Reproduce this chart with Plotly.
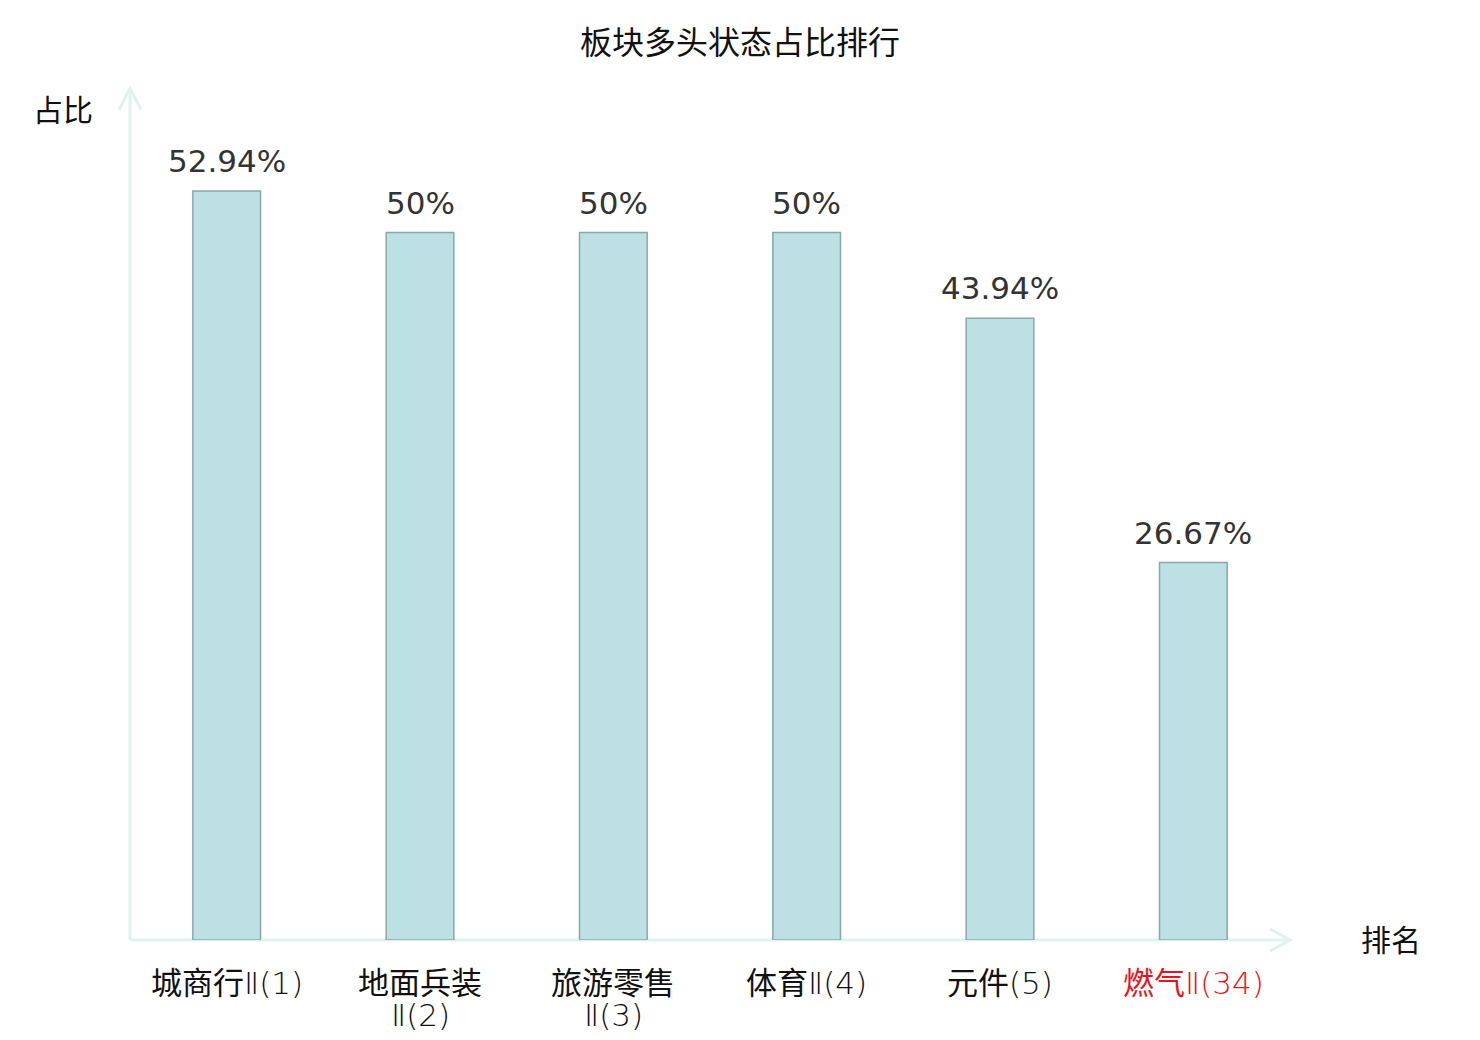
import plotly.graph_objects as go

# 板块多头状态占比排行
categories = ["城商行Ⅱ(1)", "地面兵装Ⅱ(2)", "旅游零售Ⅱ(3)", "体育Ⅱ(4)", "元件(5)", "燃气Ⅱ(34)"]
label_main = ["城商行", "地面兵装", "旅游零售", "体育", "元件", "燃气"]
label_suffix = ["Ⅱ(1)", "Ⅱ(2)", "Ⅱ(3)", "Ⅱ(4)", "(5)", "Ⅱ(34)"]
label_wrap = [False, True, True, False, False, False]
label_colors = ["#111111", "#111111", "#111111", "#111111", "#111111", "#e8141b"]
values = [52.94, 50, 50, 50, 43.94, 26.67]
value_text = ["52.94%", "50%", "50%", "50%", "43.94%", "26.67%"]

FONT = "DejaVu Sans, Noto Sans CJK SC, sans-serif"
AXIS_COLOR = "#dff2ef"

fig = go.Figure()
fig.add_trace(go.Bar(
    x=categories, y=values,
    marker=dict(color="#bce0e3", line=dict(color="#8aa8aa", width=1.5)),
    width=0.35, hoverinfo="skip",
))

# page is offset by 8px body margin, plot area lands at x 130..1290, y 91..940
fig.update_layout(
    width=1480, height=1040,
    margin=dict(l=122, r=198, t=83, b=108),
    paper_bgcolor="white", plot_bgcolor="white",
    showlegend=False,
    font=dict(family=FONT, color="#111111"),
    title=dict(text="板块多头状态占比排行", x=0.4946, xanchor="center", y=0.967, yanchor="middle",
               font=dict(size=32, color="#111111", family=FONT)),
)
fig.update_xaxes(showticklabels=False, showline=False, showgrid=False, zeroline=False, ticks="")
fig.update_yaxes(range=[0, 60], showticklabels=False, showgrid=False, zeroline=False,
                 showline=False, ticks="")

# value labels above bars
for c, v, t in zip(categories, values, value_text):
    fig.add_annotation(x=c, y=v, text=t, showarrow=False, yanchor="bottom", yshift=10,
                       font=dict(size=31, color="#333333", family=FONT))


def light(s):
    return "<span style='font-weight:200'>" + s + "</span>"


# category labels under the axis
for c, m, s, w, col in zip(categories, label_main, label_suffix, label_wrap, label_colors):
    font = dict(size=31, color=col, family=FONT)
    if w:
        fig.add_annotation(x=c, y=0, yref="paper", text=m, showarrow=False, yanchor="middle",
                           yshift=-43, font=font)
        fig.add_annotation(x=c, y=0, yref="paper", text=light(s), showarrow=False,
                           yanchor="middle", yshift=-75, font=font)
    else:
        fig.add_annotation(x=c, y=0, yref="paper", text=m + light(s), showarrow=False,
                           yanchor="middle", yshift=-43, font=font)

# axis lines with open arrowheads
axis_line = dict(color=AXIS_COLOR, width=3)
fig.add_shape(type="line", xref="paper", yref="paper", x0=0, y0=0, x1=1.0, y1=0,
              line=axis_line, layer="below")
fig.add_shape(type="line", xref="paper", yref="paper", x0=0, y0=0, x1=0, y1=1.003,
              line=axis_line, layer="below")
fig.add_shape(type="path", xref="paper", yref="paper",
              path="M 0.983,0.013 L 1.0,0 L 0.983,-0.013", line=axis_line)
fig.add_shape(type="path", xref="paper", yref="paper",
              path="M -0.0095,0.978 L 0,1.003 L 0.0095,0.978", line=axis_line)

fig.add_annotation(text="占比", xref="paper", yref="paper", x=-0.0578, y=0.9776,
                   showarrow=False, xanchor="center", yanchor="middle",
                   font=dict(size=30, color="#111111", family=FONT))
fig.add_annotation(text="排名", xref="paper", yref="paper", x=1.087, y=-0.001,
                   showarrow=False, xanchor="center", yanchor="middle",
                   font=dict(size=30, color="#111111", family=FONT))

fig.write_html("out.html")
